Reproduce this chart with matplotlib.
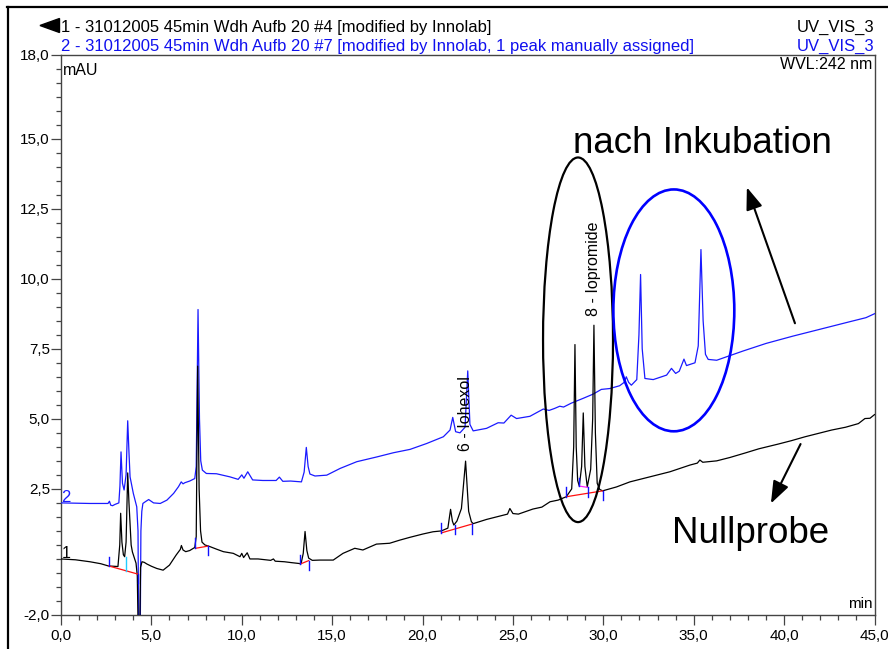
import matplotlib
matplotlib.use("Agg")
import matplotlib.pyplot as plt
from matplotlib.patches import Ellipse, Polygon
from matplotlib.lines import Line2D
from matplotlib.ticker import FixedLocator, MultipleLocator, FuncFormatter

plt.rcParams['font.family'] = ['Liberation Sans', 'DejaVu Sans']

# ---- chromatogram 1 (Nullprobe): retention time [min], signal [mAU]
trace1 = [
    (0.0, 0.0), (0.8, -0.03), (1.6, -0.10), (2.2, -0.17), (2.62, -0.25),
    (3.15, -0.27), (3.25, 0.5), (3.30, 1.63), (3.37, 0.6), (3.45, 0.15),
    (3.52, 0.08), (3.6, 0.6), (3.69, 3.07), (3.76, 2.0), (3.82, 1.27),
    (3.88, 0.5), (3.95, 0.25), (4.05, 0.05), (4.15, -0.15), (4.22, -0.6),
    (4.28, -3.0), (4.35, -3.0), (4.40, -0.3), (4.48, -0.1), (4.6, -0.12),
    (4.75, -0.18), (5.0, -0.26), (5.3, -0.34), (5.65, -0.40), (6.0, -0.22),
    (6.37, 0.14), (6.6, 0.34), (6.66, 0.48), (6.75, 0.32), (6.9, 0.26),
    (7.12, 0.30), (7.4, 0.41), (7.48, 0.8), (7.56, 6.88), (7.64, 2.5),
    (7.72, 1.0), (7.8, 0.6), (7.96, 0.5), (8.24, 0.44), (8.6, 0.35),
    (8.98, 0.26), (9.53, 0.2), (9.9, 0.08), (10.0, 0.2), (10.1, 0.05),
    (10.3, 0.22), (10.45, 0.0), (10.9, 0.0), (11.6, -0.05), (11.75, 0.0),
    (11.85, -0.08), (12.36, -0.1), (12.73, -0.13), (13.28, -0.17), (13.4, 0.2),
    (13.5, 0.98), (13.6, 0.3), (13.7, 0.03), (13.9, -0.05), (14.32, -0.04),
    (15.06, -0.04), (15.6, 0.2), (16.25, 0.38), (16.7, 0.32), (17.45, 0.53),
    (18.18, 0.56), (18.73, 0.67), (19.29, 0.77), (20.02, 0.89), (20.58, 0.97),
    (21.04, 1.0), (21.4, 1.1), (21.55, 1.77), (21.65, 1.35), (21.73, 1.21),
    (21.9, 1.35), (22.15, 1.8), (22.38, 3.49), (22.55, 1.7), (22.7, 1.33),
    (22.8, 1.26), (23.54, 1.41), (24.28, 1.53), (24.7, 1.6), (24.83, 1.8),
    (25.0, 1.62), (25.3, 1.6), (26.1, 1.78), (26.6, 1.85), (27.05, 2.04),
    (27.5, 2.1), (27.95, 2.22), (28.25, 2.5), (28.36, 4.0), (28.43, 7.65),
    (28.5, 4.0), (28.58, 2.8), (28.67, 2.6), (28.8, 3.3), (28.89, 5.21),
    (28.98, 3.3), (29.11, 2.57), (29.3, 3.2), (29.41, 5.0), (29.48, 8.34),
    (29.56, 4.5), (29.66, 2.7), (29.8, 2.48), (29.96, 2.43), (30.73, 2.57),
    (31.47, 2.75), (32.58, 2.93), (33.68, 3.11), (34.79, 3.35), (35.2, 3.42),
    (35.34, 3.53), (35.5, 3.45), (36.27, 3.5), (37.0, 3.62), (37.84, 3.78),
    (38.6, 3.93), (39.68, 4.1), (40.4, 4.22), (41.16, 4.36), (42.63, 4.6),
    (43.4, 4.7), (44.11, 4.83), (44.47, 5.01), (44.75, 5.02), (45.0, 5.15),
]

# ---- chromatogram 2 (nach Inkubation)
trace2 = [
    (0.0, 2.0), (1.6, 1.98), (2.6, 1.98), (2.68, 2.06), (2.75, 1.92),
    (2.85, 1.9), (3.0, 1.95), (3.2, 2.0), (3.26, 2.6), (3.32, 3.82),
    (3.40, 2.7), (3.49, 2.46), (3.6, 3.0), (3.69, 4.93), (3.76, 3.8),
    (3.82, 2.93), (4.0, 2.34), (4.19, 1.86), (4.26, 1.0), (4.30, -3.0),
    (4.38, -3.0), (4.42, 1.0), (4.47, 1.7), (4.53, 1.98), (4.66, 2.04),
    (4.85, 2.12), (5.12, 2.0), (5.49, 1.98), (5.86, 2.1), (6.23, 2.34),
    (6.5, 2.58), (6.65, 2.75), (6.75, 2.68), (6.85, 2.72), (7.12, 2.78),
    (7.4, 2.87), (7.48, 3.3), (7.58, 8.9), (7.66, 5.0), (7.73, 3.5),
    (7.82, 3.17), (8.04, 3.05), (8.6, 3.04), (9.34, 2.93), (9.8, 2.84),
    (10.0, 3.0), (10.12, 2.88), (10.33, 3.11), (10.6, 2.82), (11.16, 2.8),
    (11.9, 2.8), (12.08, 2.92), (12.27, 2.77), (12.7, 2.78), (13.3, 2.75),
    (13.45, 3.1), (13.57, 3.98), (13.67, 3.3), (13.77, 3.03), (14.05, 2.96),
    (14.7, 2.99), (15.44, 3.23), (16.36, 3.47), (17.47, 3.64), (18.39, 3.79),
    (19.31, 3.91), (20.23, 4.12), (21.15, 4.36), (21.52, 4.6), (21.67, 5.05),
    (21.83, 4.54), (22.07, 4.5), (22.35, 4.7), (22.5, 6.71), (22.62, 4.8),
    (22.8, 4.57), (23.54, 4.66), (24.18, 4.86), (24.5, 4.85), (24.9, 5.13),
    (25.2, 5.01), (25.94, 5.09), (26.68, 5.35), (27.0, 5.3), (27.3, 5.37),
    (27.59, 5.45), (27.8, 5.42), (28.23, 5.56), (28.88, 5.73), (29.43, 5.88),
    (29.89, 6.05), (30.35, 6.08), (30.9, 6.18), (31.15, 6.3), (31.27, 6.5),
    (31.4, 6.3), (31.55, 6.2), (31.85, 6.4), (31.97, 8.0), (32.06, 10.15),
    (32.15, 7.5), (32.3, 6.44), (32.76, 6.4), (33.5, 6.56), (33.77, 6.8),
    (34.0, 6.62), (34.2, 6.7), (34.46, 7.13), (34.6, 6.9), (35.07, 7.0),
    (35.25, 7.6), (35.4, 11.04), (35.52, 8.5), (35.65, 7.3), (35.8, 7.12),
    (36.27, 7.09), (36.8, 7.21), (37.73, 7.42), (39.0, 7.69), (40.48, 7.95),
    (41.95, 8.19), (43.6, 8.46), (44.53, 8.61), (45.0, 8.75),
]

# integration baselines of chromatogram 1: (t0, v0, t1, v1)
baselines = [
    (2.64, -0.25, 4.25, -0.54),
    (7.44, 0.38, 8.15, 0.46),
    (13.24, -0.18, 13.70, -0.06),
    (21.04, 0.93, 22.71, 1.24),
    (27.95, 2.22, 29.96, 2.43),
]
valley_baselines = [(28.67, 2.60, 29.17, 2.55)]

# peak delimiters: (t, v_from, v_to, colour)
delimiters = [
    (2.64, -0.25, 0.08, '#1010ff'),
    (3.58, -0.42, 0.08, '#22ccff'),
    (4.25, -0.54, -0.85, '#1010ff'),
    (7.44, 0.38, 0.73, '#1010ff'),
    (8.15, 0.46, 0.13, '#1010ff'),
    (13.24, -0.18, 0.14, '#1010ff'),
    (13.70, -0.06, -0.39, '#1010ff'),
    (21.04, 0.93, 1.27, '#1010ff'),
    (21.77, 0.89, 1.21, '#1010ff'),
    (22.71, 1.24, 0.90, '#1010ff'),
    (27.95, 2.22, 2.55, '#1010ff'),
    (28.67, 2.60, 2.90, '#1010ff'),
    (29.17, 2.55, 2.22, '#1010ff'),
    (29.96, 2.43, 2.10, '#1010ff'),
]

# named peaks: (label, x, y centre of the vertical label)
peak_labels = [("6 - Iohexol", 22.35, 5.19), ("8 - Iopromide", 29.45, 10.36)]

x_major = [0, 5, 10, 15, 20, 25, 30, 35, 40, 45]
y_major = [-2.0, 2.5, 5.0, 7.5, 10.0, 12.5, 15.0, 18.0]

header1 = "1 - 31012005 45min Wdh Aufb 20 #4 [modified by Innolab]"
header2 = "2 - 31012005 45min Wdh Aufb 20 #7 [modified by Innolab, 1 peak manually assigned]"
channel = "UV_VIS_3"

W, H = 888, 649
BLUE = '#1a1aff'

fig = plt.figure(figsize=(W / 100, H / 100), dpi=100)


def fx(px):
    return px / W


def fy(py):
    return 1 - py / H


ax = fig.add_axes([fx(61), fy(615), fx(874.5) - fx(61), fy(54.5) - fy(615)])
ax.set_xlim(0, 45)
ax.set_ylim(-2, 18)

t2, v2 = zip(*trace2)
t1, v1 = zip(*trace1)
ax.plot(t2, v2, color=BLUE, lw=0.9, zorder=3)
ax.plot(t1, v1, color='black', lw=0.9, zorder=4)

for a, b, c, d in baselines:
    ax.plot([a, c], [b, d], color='#ff1010', lw=0.9, zorder=5)
for a, b, c, d in valley_baselines:
    ax.plot([a, c], [b, d], color='#ff20ff', lw=0.9, zorder=5)
for t, va, vb, col in delimiters:
    ax.plot([t, t], [va, vb], color=col, lw=1.0, zorder=5)

for text, x, y in peak_labels:
    ax.text(x, y, text, rotation=90, ha='center', va='center', fontsize=11.5,
            color='black', zorder=6)

# highlighted regions
ax.add_patch(Ellipse((28.6, 7.82), 3.87, 13.01, fill=False, ec='black',
                     lw=1.6, zorder=6))
ax.add_patch(Ellipse((33.9, 8.87), 6.69, 8.63, fill=False, ec='#0000ff',
                     lw=1.9, zorder=6))

arrow_style = dict(arrowstyle='-|>,head_length=0.75,head_width=0.28',
                   color='black', lw=1.5, shrinkA=0, shrinkB=0,
                   mutation_scale=18)
ax.annotate('', xy=(37.94, 13.26), xytext=(40.6, 8.41), arrowprops=arrow_style,
            zorder=7)
ax.annotate('', xy=(39.27, 1.98), xytext=(40.91, 4.1), arrowprops=arrow_style,
            zorder=7)

ax.text(28.32, 14.47, "nach Inkubation", fontsize=26.5, ha='left',
        va='baseline', color='black', zorder=7)
ax.text(33.78, 0.556, "Nullprobe", fontsize=26.5, ha='left',
        va='baseline', color='black', zorder=7)

# trace numbers
ax.text(0.02, 2.04, "2", color=BLUE, fontsize=12, ha='left', va='baseline')
ax.text(0.05, 0.04, "1", color='black', fontsize=11.5, ha='left', va='baseline')

# axes styling
spine_col = '#444444'
for s in ax.spines.values():
    s.set_color(spine_col)
    s.set_linewidth(1.0)

ax.xaxis.set_major_locator(FixedLocator(x_major))
ax.xaxis.set_minor_locator(MultipleLocator(1))
ax.yaxis.set_major_locator(FixedLocator(y_major))
ax.yaxis.set_minor_locator(MultipleLocator(0.5))
comma = FuncFormatter(lambda v, p: f"{v:.1f}".replace('.', ','))
ax.xaxis.set_major_formatter(comma)
ax.yaxis.set_major_formatter(comma)
ax.tick_params(which='major', direction='out', length=7, width=0.9,
               color=spine_col, labelsize=11, labelcolor='black')
ax.tick_params(which='minor', direction='out', length=3.5, width=0.9,
               color=spine_col)
ax.tick_params(axis='y', which='major', pad=1)
ax.tick_params(axis='x', which='major', pad=3)

ax.text(0.002, 0.985, "mAU", transform=ax.transAxes, fontsize=11.5,
        ha='left', va='top')
ax.text(0.998, 0.008, "min", transform=ax.transAxes, fontsize=11,
        ha='right', va='bottom')

# header block
fig.text(fx(61), fy(31.7), header1, fontsize=12, color='black',
         ha='left', va='baseline')
fig.text(fx(61), fy(50.7), header2, fontsize=12, color='#1010ee',
         ha='left', va='baseline')
fig.text(fx(874), fy(31.7), channel, fontsize=12, color='black',
         ha='right', va='baseline')
fig.text(fx(874), fy(50.7), channel, fontsize=12, color='#1010ee',
         ha='right', va='baseline')
fig.text(fx(872.5), fy(69.3), "WVL:242 nm", fontsize=11.5, color='black',
         ha='right', va='baseline')

fig.patches.append(Polygon([[fx(40), fy(25.5)], [fx(59.5), fy(18.5)],
                            [fx(59.5), fy(32.5)]], closed=True,
                           transform=fig.transFigure, fc='black', ec='black'))

# outer frame
fig.lines.append(Line2D([fx(7.5), fx(7.5)], [fy(6.5), fy(H)],
                        transform=fig.transFigure, color='black', lw=1.6))
fig.lines.append(Line2D([fx(7), fx(W)], [fy(6.5), fy(6.5)],
                        transform=fig.transFigure, color='black', lw=1.6))

fig.savefig("out.png", dpi=100)
